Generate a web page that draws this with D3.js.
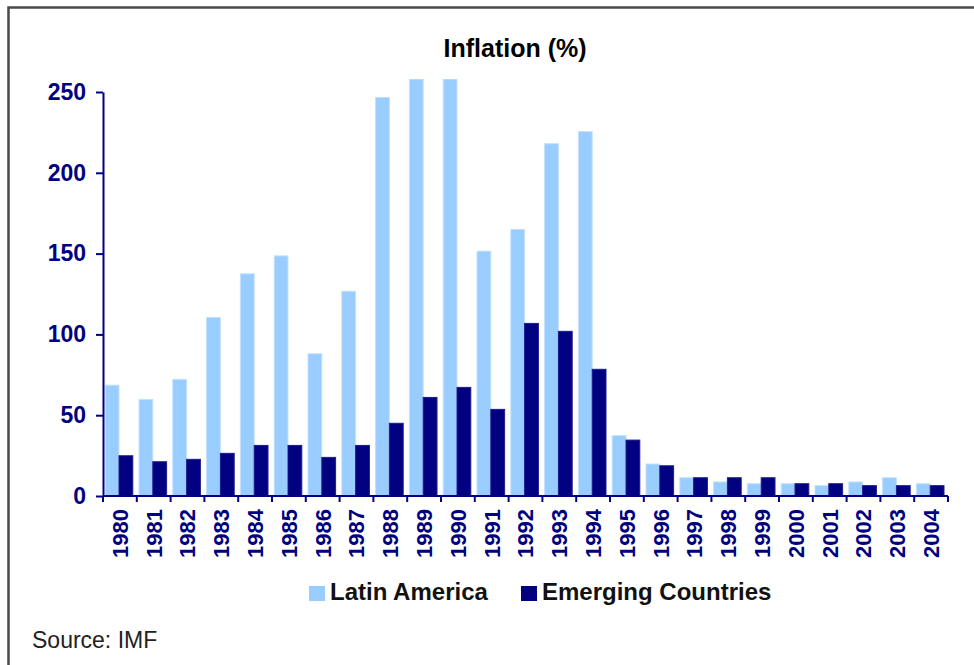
<!DOCTYPE html>
<html>
<head>
<meta charset="utf-8">
<script src="https://cdn.jsdelivr.net/npm/d3@7"></script>
<style>
  html, body { margin: 0; padding: 0; background: #ffffff; }
  svg { display: block; }
  text { font-family: Arial, "Liberation Sans", sans-serif; }
</style>
</head>
<body>
<svg id="chart" width="974" height="665"></svg>
<script>
// Inflation (%) by year, IMF
const years = ["1980","1981","1982","1983","1984","1985","1986","1987","1988","1989",
               "1990","1991","1992","1993","1994","1995","1996","1997","1998","1999",
               "2000","2001","2002","2003","2004"];
const latinAmerica = [68.6, 59.8, 72.2, 110.5, 137.5, 148.6, 88.0, 126.7, 246.6, 258.0,
                      258.0, 151.5, 165.0, 218.0, 225.5, 37.3, 19.8, 11.3, 8.7, 7.6,
                      7.6, 6.4, 8.7, 11.3, 7.6];
const emergingCountries = [24.9, 21.2, 22.7, 26.4, 31.3, 31.3, 23.9, 31.3, 45.0, 61.0,
                           67.2, 53.6, 106.8, 101.9, 78.4, 34.6, 18.7, 11.3, 11.3, 11.3,
                           7.6, 7.6, 6.4, 6.4, 6.4];
const seriesNames = ["Latin America", "Emerging Countries"];
const seriesColors = ["#99ccff", "#000080"];
const yTicks = [0, 50, 100, 150, 200, 250];

const svg = d3.select("#chart");
const navy = "#000080";

// outer frame
svg.append("rect")
  .attr("x", 8.5).attr("y", 7.5)
  .attr("width", 1100).attr("height", 800)
  .attr("fill", "none")
  .attr("stroke", "#4a4a4a")
  .attr("stroke-width", 2.5);

// title
svg.append("text")
  .attr("x", 515).attr("y", 57)
  .attr("text-anchor", "middle")
  .attr("font-size", 25).attr("font-weight", "bold")
  .attr("fill", "#000")
  .text("Inflation (%)");

const plot = { left: 103, right: 948, top: 79, bottom: 496 };

const x = d3.scaleBand().domain(years).range([plot.left, plot.right]).padding(0);
const xs = d3.scaleBand().domain(seriesNames).range([2.2, 2.2 + 27.6]).padding(0);
const y = d3.scaleLinear().domain([0, 250]).range([plot.bottom, 92]);

// clip bars to plot area
svg.append("defs").append("clipPath").attr("id", "plotClip")
  .append("rect")
  .attr("x", plot.left).attr("y", plot.top)
  .attr("width", plot.right - plot.left).attr("height", plot.bottom - plot.top);

const rows = years.map((yr, i) => ({
  year: yr,
  values: [
    { name: seriesNames[0], value: latinAmerica[i], color: seriesColors[0], stroke: "#c2e1ff" },
    { name: seriesNames[1], value: emergingCountries[i], color: seriesColors[1], stroke: "#1c1c8e" }
  ]
}));

const bars = svg.append("g").attr("clip-path", "url(#plotClip)");
bars.selectAll("g.year")
  .data(rows)
  .join("g")
  .attr("class", "year")
  .attr("transform", d => `translate(${x(d.year)},0)`)
  .selectAll("rect")
  .data(d => d.values)
  .join("rect")
  .attr("x", d => xs(d.name))
  .attr("width", xs.bandwidth())
  .attr("y", d => y(d.value))
  .attr("height", d => plot.bottom - y(d.value))
  .attr("fill", d => d.color)
  .attr("stroke", d => d.stroke)
  .attr("stroke-width", 1);

// y axis
const yAxis = svg.append("g")
  .attr("transform", `translate(${plot.left},0)`)
  .call(d3.axisLeft(y).tickValues(yTicks).tickSize(7).tickPadding(10).tickSizeOuter(0));
yAxis.select(".domain").attr("stroke", navy).attr("stroke-width", 2);
yAxis.selectAll(".tick line").attr("stroke", navy).attr("stroke-width", 2);
yAxis.selectAll(".tick text")
  .attr("fill", navy)
  .attr("font-size", 23)
  .attr("font-weight", "bold")
  .attr("font-family", "Arial, 'Liberation Sans', sans-serif");

// x axis: tick marks sit on category boundaries
const xAxisG = svg.append("g");
xAxisG.append("line")
  .attr("x1", plot.left).attr("x2", plot.right)
  .attr("y1", plot.bottom).attr("y2", plot.bottom)
  .attr("stroke", navy).attr("stroke-width", 2);
const boundaries = years.map(yr => x(yr)).concat([x(years[years.length - 1]) + x.bandwidth()]);
xAxisG.selectAll("line.tick")
  .data(boundaries)
  .join("line")
  .attr("class", "tick")
  .attr("x1", d => d).attr("x2", d => d)
  .attr("y1", plot.bottom).attr("y2", plot.bottom + 6)
  .attr("stroke", navy).attr("stroke-width", 2);
xAxisG.selectAll("text.label")
  .data(years)
  .join("text")
  .attr("class", "label")
  .attr("transform", d => `translate(${x(d) + x.bandwidth() / 2},509) rotate(-90)`)
  .attr("text-anchor", "end")
  .attr("dy", "0.36em")
  .attr("font-size", 22)
  .attr("font-weight", "bold")
  .attr("fill", navy)
  .text(d => d);

// legend
const legendItems = [
  { name: seriesNames[0], color: seriesColors[0], sx: 309, tx: 330 },
  { name: seriesNames[1], color: seriesColors[1], sx: 521, tx: 542 }
];
const legend = svg.append("g");
legend.selectAll("rect")
  .data(legendItems)
  .join("rect")
  .attr("x", d => d.sx).attr("y", 586)
  .attr("width", 16).attr("height", 15)
  .attr("fill", d => d.color);
legend.selectAll("text")
  .data(legendItems)
  .join("text")
  .attr("x", d => d.tx).attr("y", 600)
  .attr("font-size", 24).attr("font-weight", "bold")
  .attr("fill", "#111")
  .text(d => d.name);

// source note
svg.append("text")
  .attr("x", 32).attr("y", 648)
  .attr("font-size", 23)
  .attr("fill", "#222")
  .text("Source: IMF");
</script>
</body>
</html>
